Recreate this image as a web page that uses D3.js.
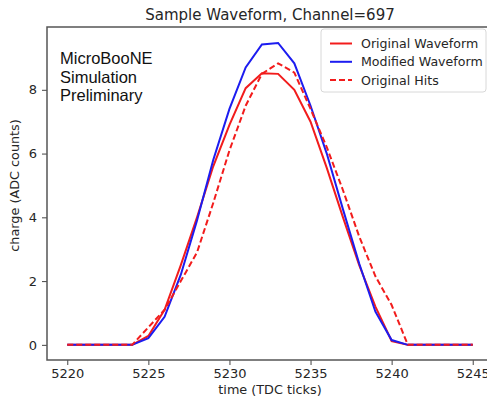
<!DOCTYPE html>
<html>
<head>
<meta charset="utf-8">
<script src="https://cdn.jsdelivr.net/npm/d3@7"></script>
<style>
  body { margin: 0; background: #fff; }
  text { font-family: "DejaVu Sans", sans-serif; fill: #262626; }
</style>
</head>
<body>
<div id="waveform"></div>
<script>
// tdc ticks for every sample
var ticks = d3.range(5220, 5246);

// charge per tick
var original_wf = [0, 0, 0, 0, 0, 0.28, 1.1, 2.5, 4.0, 5.6, 6.9, 8.05, 8.52, 8.5, 8.0, 7.0, 5.55, 4.0, 2.5, 1.2, 0.12, 0, 0, 0, 0, 0];
var modified_wf = [0, 0, 0, 0, 0, 0.21, 0.88, 2.2, 3.9, 5.8, 7.4, 8.7, 9.42, 9.47, 8.83, 7.5, 6.0, 4.25, 2.55, 1.04, 0.15, 0, 0, 0, 0, 0];
var original_hits = [0, 0, 0, 0, 0, 0.55, 1.1, 2.0, 2.9, 4.45, 6.1, 7.5, 8.5, 8.83, 8.54, 7.4, 6.2, 4.85, 3.4, 2.15, 1.25, 0, 0, 0, 0, 0];

var x_ticks = [5220, 5225, 5230, 5235, 5240, 5245];
var y_ticks = [0, 2, 4, 6, 8];

var series = [
    {name: "Original Waveform", values: original_wf, colour: "#f21c1c", dash: null},
    {name: "Modified Waveform", values: modified_wf, colour: "#1c1cf0", dash: null},
    {name: "Original Hits", values: original_hits, colour: "#f21c1c", dash: "6,3"}];

// set the dimensions and margins of the graph
var setWidth = 487;
var setHeight = 397;
var margin = {top: 27, right: -6, bottom: 37, left: 47};
var width = setWidth - margin.left - margin.right;
var height = setHeight - margin.top - margin.bottom;

var svg = d3.select("#waveform")
    .append("svg")
    .attr("width", setWidth)
    .attr("height", setHeight)
    .append("g")
    .attr("transform", "translate(" + margin.left + "," + margin.top + ")");

// matplotlib style 5% padding on both axes
var x = d3.scaleLinear()
    .domain([5218.75, 5246.25])
    .range([0, width]);

var y = d3.scaleLinear()
    .domain([-0.475, 9.97])
    .range([height, 0]);

// lines
var line = d3.line()
    .x(function (d, i) { return x(ticks[i]); })
    .y(function (d) { return y(d); });

series.forEach(function (s) {
    svg.append("path")
        .datum(s.values)
        .attr("fill", "none")
        .attr("stroke", s.colour)
        .attr("stroke-width", 2)
        .attr("stroke-dasharray", s.dash)
        .attr("d", line);
});

// x axis
var xAxis = svg.append("g")
    .attr("transform", "translate(0," + height + ")")
    .call(d3.axisBottom(x).tickValues(x_ticks).tickSize(5).tickPadding(4).tickFormat(d3.format("d")));

// y axis
var yAxis = svg.append("g")
    .call(d3.axisLeft(y).tickValues(y_ticks).tickSize(5).tickPadding(5));

[xAxis, yAxis].forEach(function (a) {
    a.select(".domain").remove();
    a.selectAll("line").attr("stroke", "#444");
    a.selectAll("text")
        .style("font-size", "13px")
        .style("font-family", "DejaVu Sans");
});

// spines
svg.append("rect")
    .attr("width", width)
    .attr("height", height)
    .attr("fill", "none")
    .attr("stroke", "#555")
    .attr("stroke-width", 1.5);

// title and axis labels
svg.append("text")
    .attr("text-anchor", "middle")
    .attr("x", width / 2)
    .attr("y", -7)
    .style("font-size", "15px")
    .text("Sample Waveform, Channel=697");

svg.append("text")
    .attr("text-anchor", "middle")
    .attr("x", width / 2)
    .attr("y", height + 34)
    .style("font-size", "12.8px")
    .text("time (TDC ticks)");

svg.append("text")
    .attr("text-anchor", "middle")
    .attr("transform", "rotate(-90)")
    .attr("x", -y(5))
    .attr("y", -28)
    .style("font-size", "12.8px")
    .text("charge (ADC counts)");

// microboone label
var label = svg.append("text")
    .attr("x", 13)
    .attr("y", 37)
    .style("font-family", "Liberation Sans, Arial, sans-serif")
    .style("font-size", "16.5px")
    .style("fill", "#111");
["MicroBooNE", "Simulation", "Preliminary"].forEach(function (t, i) {
    label.append("tspan")
        .attr("x", 13)
        .attr("dy", i == 0 ? 0 : 18.5)
        .text(t);
});

// legend
var legend = svg.append("g")
    .attr("transform", "translate(" + (321 - margin.left) + "," + (29 - margin.top) + ")");

legend.append("rect")
    .attr("width", 165)
    .attr("height", 63)
    .attr("rx", 3)
    .attr("fill", "#fff")
    .attr("fill-opacity", 0.85)
    .attr("stroke", "#d8d8d8");

series.forEach(function (s, i) {
    var row = legend.append("g")
        .attr("transform", "translate(0," + (14.5 + i * 18.3) + ")");
    row.append("line")
        .attr("x1", 9)
        .attr("x2", 31)
        .attr("stroke", s.colour)
        .attr("stroke-width", 2)
        .attr("stroke-dasharray", s.dash);
    row.append("text")
        .attr("x", 40)
        .attr("dy", "0.35em")
        .style("font-size", "12.6px")
        .text(s.name);
});
</script>
</body>
</html>
